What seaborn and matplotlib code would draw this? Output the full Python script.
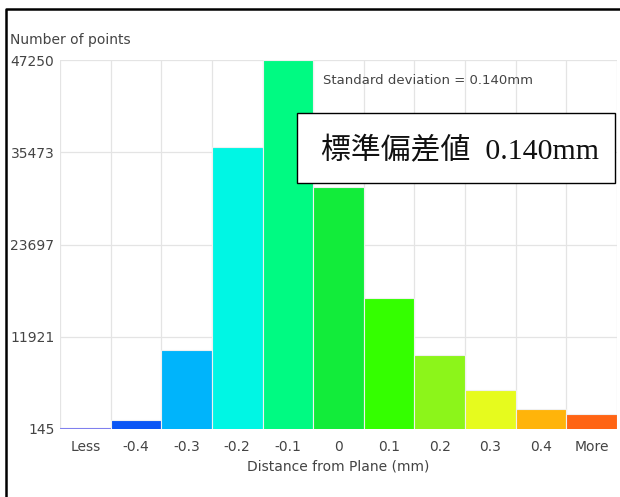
import numpy as np
import pandas as pd
import matplotlib
matplotlib.use("Agg")
import matplotlib.pyplot as plt
import seaborn as sns

# histogram bins
bins = ["Less", "-0.4", "-0.3", "-0.2", "-0.1", "0", "0.1", "0.2", "0.3", "0.4", "More"]
counts = [330, 1330, 10250, 36150, 47250, 31050, 16880, 9620, 5110, 2700, 2100]
bar_colors = ["#8080ee", "#0a55f5", "#00b4fb", "#00f6e4", "#00fa82", "#12ec3a",
              "#34ff00", "#8cf51a", "#e6fb1e", "#ffb40a", "#ff6414"]
y_ticks = [145, 11921, 23697, 35473, 47250]

df = pd.DataFrame({"bin": bins, "count": counts})

sns.set_style("white")
plt.rcParams["font.family"] = ["DejaVu Sans"]

fig = plt.figure(figsize=(6.2, 4.97), dpi=100)
ax = fig.add_axes([60 / 620, 1 - 429 / 497, 557 / 620, 369 / 497])

sns.barplot(data=df, x="bin", y="count", hue="bin", palette=bar_colors,
            legend=False, width=1.0, edgecolor="#f0f0f0", linewidth=0.8,
            saturation=1, ax=ax, zorder=3)
# the "Less" bar is barely one pixel high, keep its own colour on the outline
ax.patches[0].set_edgecolor(bar_colors[0])

ax.set_xlim(-0.5, len(bins) - 0.5)
ax.set_ylim(y_ticks[0], y_ticks[-1])
ax.set_yticks(y_ticks)
ax.set_yticklabels([str(v) for v in y_ticks])
ax.set_xticks(range(len(bins)))
ax.set_xticklabels(bins)
ax.set_xticks(np.arange(-0.5, len(bins), 1), minor=True)

ax.grid(False)
ax.yaxis.grid(True, color="#e4e4e4", linewidth=0.9, zorder=0)
ax.xaxis.grid(True, which="minor", color="#e4e4e4", linewidth=0.9, zorder=0)
ax.tick_params(axis="x", which="both", length=0, pad=8, labelsize=10, labelcolor="#444444")
ax.tick_params(axis="y", length=3, color="#d8d8d8", pad=1, labelsize=10, labelcolor="#444444")
for s in ax.spines.values():
    s.set_visible(False)

ax.set_xlabel("Distance from Plane (mm)", fontsize=10, color="#444444", labelpad=4)
ax.set_ylabel("")
fig.text(10 / 620, 1 - 40 / 497, "Number of points", fontsize=10, color="#444444",
         va="center", ha="left")

ax.text(323 / 620, 1 - 80 / 497, "Standard deviation = 0.140mm", transform=fig.transFigure,
        fontsize=9.5, color="#444444", va="center", ha="left")

# japanese annotation box
box = plt.Rectangle((297 / 620, 1 - 183 / 497), 318 / 620, 70 / 497, transform=fig.transFigure,
                    facecolor="white", edgecolor="black", linewidth=1.0, zorder=5)
fig.patches.append(box)
fig.text(321 / 620, 1 - 151 / 497, "標準偏差値  0.140mm", fontsize=21.5, color="#111111",
         family=["Liberation Serif", "Noto Sans CJK JP"], va="center", ha="left", zorder=6)

# outer frame of the screenshot (left and top edges)
frame_x = [6 / 620, 6 / 620, 1.0]
frame_y = [0, 1 - 9 / 497, 1 - 9 / 497]
fig.add_artist(plt.Line2D(frame_x, frame_y, transform=fig.transFigure, color="black", linewidth=1.8))

fig.savefig("out.png", dpi=100)
